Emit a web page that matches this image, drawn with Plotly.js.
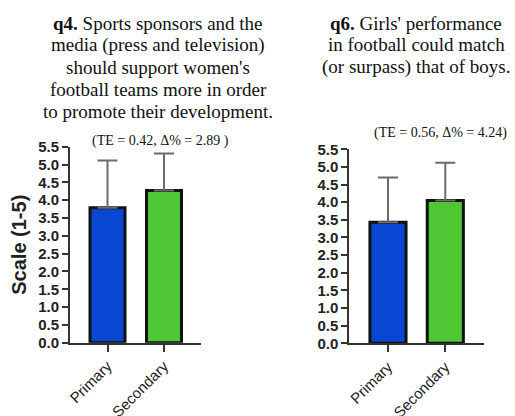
<!DOCTYPE html>
<html><head><meta charset="utf-8">
<script src="https://cdn.plot.ly/plotly-3.0.1.min.js"></script>
<style>html,body{margin:0;padding:0;background:#fff;}#chart{width:515px;height:416px;}</style>
</head><body><div id="chart"></div>
<script>
const categories = ["Primary", "Secondary"];
const q4Means = [3.79, 4.27];
const q4SD = [1.32, 1.04];
const q6Means = [3.43, 4.05];
const q6SD = [1.27, 1.07];
const barColors = ["#0a46d4", "#4fc634"];
const q4TitleLines = ["<b>q4.</b> Sports sponsors and the", "media (press and television)", "should support women's", "football teams more in order", "to promote their development."];
const q6TitleLines = ["<b>q6.</b> Girls' performance", "in football could match", "(or surpass) that of boys."];
const q4Stat = "(TE = 0.42, Δ% = 2.89 )";
const q6Stat = "(TE = 0.56, Δ% = 4.24)";
const yTicks = [0,0.5,1,1.5,2,2.5,3,3.5,4,4.5,5,5.5];

const W = 515, H = 416;
const SERIF = 'Liberation Serif';
const SANS = 'Liberation Sans';
function bar(means, sd, xa, ya, w) {
  return {
    type: 'bar', x: categories, y: means, xaxis: xa, yaxis: ya, width: w,
    marker: {color: barColors, line: {color: '#111', width: 3}},
    error_y: {type: 'data', symmetric: false, array: sd, arrayminus: [0,0],
              color: '#6b6b6b', thickness: 2, width: 10},
    hoverinfo: 'skip', showlegend: false
  };
}
const axCommon = {
  showline: true, linecolor: '#333', linewidth: 2, ticks: 'outside',
  tickcolor: '#333', tickwidth: 2, ticklen: 7, showgrid: false, zeroline: false,
  fixedrange: true
};
const yCommon = Object.assign({}, axCommon, {
  range: [0, 5.5], tickvals: yTicks, ticktext: yTicks.map(v => '<b>' + v.toFixed(1) + '</b>'),
  tickfont: {family: SANS, size: 15, color: '#222'},
  ticklen: 6
});
const xCommon = Object.assign({}, axCommon, {
  type: 'category', tickangle: -45,
  tickfont: {family: SANS, size: 15, color: '#222'}
});
function titleLines(lines, cx, firstY) {
  return lines.map((t, i) => ({
    text: t, xref: 'paper', yref: 'paper', x: cx / W, y: 1 - (firstY + i * 22) / H,
    xanchor: 'center', yanchor: 'middle', showarrow: false,
    font: {family: SERIF, size: 19, color: '#111'}
  }));
}
const layout = {
  width: W, height: H, margin: {l: 0, r: 0, t: 0, b: 0},
  paper_bgcolor: '#fff', plot_bgcolor: 'rgba(0,0,0,0)',
  xaxis: Object.assign({}, xCommon, {domain: [70/W, 201/W], range: [-0.664, 1.655], anchor: 'y'}),
  yaxis: Object.assign({}, yCommon, {domain: [(H-342.7)/H, (H-146.7)/H], anchor: 'x',
    title: {text: '<b>Scale (1-5)</b>', font: {family: SANS, size: 20, color: '#222'}, standoff: 6}}),
  xaxis2: Object.assign({}, xCommon, {domain: [349.3/W, 484/W], range: [-0.675, 1.675], anchor: 'y2'}),
  yaxis2: Object.assign({}, yCommon, {domain: [(H-343.3)/H, (H-149.3)/H], anchor: 'x2'}),
  annotations: [].concat(
    titleLines(q4TitleLines, 158, 23),
    titleLines(q6TitleLines, 416, 23),
    [
      {text: q4Stat, xref: 'paper', yref: 'paper', x: 160/W, y: 1 - 140.5/H, xanchor: 'center', yanchor: 'middle',
       showarrow: false, font: {family: SERIF, size: 14, color: '#111'}},
      {text: q6Stat, xref: 'paper', yref: 'paper', x: 440/W, y: 1 - 133/H, xanchor: 'center', yanchor: 'middle',
       showarrow: false, font: {family: SERIF, size: 14, color: '#111'}}
    ])
};
Plotly.newPlot('chart', [bar(q4Means, q4SD, 'x', 'y', 0.62), bar(q6Means, q6SD, 'x2', 'y2', 0.63)], layout, {staticPlot: true});
</script></body></html>
